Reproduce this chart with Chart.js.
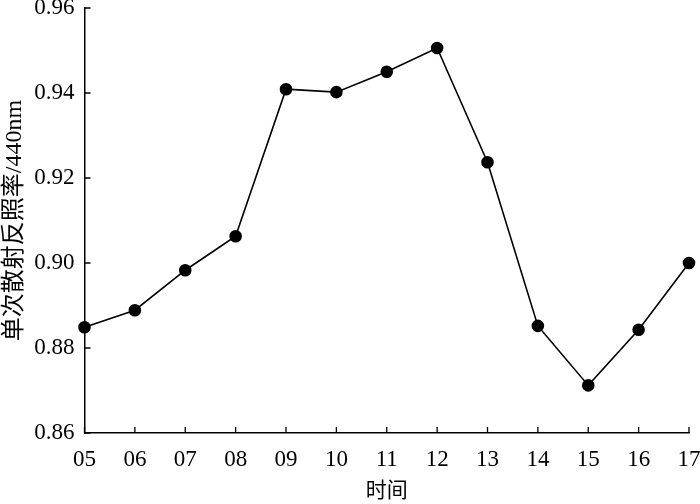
<!DOCTYPE html>
<html>
<head>
<meta charset="utf-8">
<script src="https://cdn.jsdelivr.net/npm/chart.js@4"></script>
<style>
  html, body { margin: 0; padding: 0; background: #fff; }
  #wrap { width: 700px; height: 504px; }
</style>
</head>
<body>
<div id="wrap"><canvas id="target" width="700" height="504"></canvas></div>
<script>
// 時間 (x軸)
var hours = ['05', '06', '07', '08', '09', '10', '11', '12', '13', '14', '15', '16', '17'];
// 単次散乱アルベド 440nm
var ssa = [0.8849, 0.8889, 0.8983, 0.9063, 0.9409, 0.9402, 0.9450, 0.9506, 0.9237, 0.8852, 0.8712, 0.8843, 0.9000];
// y軸の目盛り
var yTicks = [0.86, 0.88, 0.90, 0.92, 0.94, 0.96];

var FONT = '"Liberation Serif", "Noto Sans CJK SC", serif';

// 内向きの目盛り線
var innerTicks = {
  id: 'innerTicks',
  afterDraw: function (chart) {
    var ctx = chart.ctx;
    var xs = chart.scales.x, ys = chart.scales.y;
    var len = 6;
    ctx.save();
    ctx.strokeStyle = '#000';
    ctx.lineWidth = 1.3;
    ctx.beginPath();
    xs.ticks.forEach(function (t, i) {
      var px = xs.getPixelForTick(i);
      ctx.moveTo(px, xs.top);
      ctx.lineTo(px, xs.top - len);
    });
    ys.ticks.forEach(function (t, i) {
      var py = ys.getPixelForTick(i);
      ctx.moveTo(ys.right, py);
      ctx.lineTo(ys.right + len, py);
    });
    ctx.stroke();
    ctx.restore();
  }
};

new Chart(document.getElementById('target').getContext('2d'), {
  type: 'line',
  data: {
    labels: hours,
    datasets: [{
      data: ssa,
      borderColor: '#000',
      borderWidth: 1.6,
      pointBackgroundColor: '#000',
      pointBorderColor: '#000',
      pointRadius: 5.5,
      tension: 0,
      fill: false
    }]
  },
  plugins: [innerTicks],
  options: {
    responsive: false,
    animation: false,
    layout: { padding: { top: 8, right: 11, left: 0, bottom: 0 } },
    plugins: { legend: { display: false }, tooltip: { enabled: false } },
    scales: {
      x: {
        offset: false,
        grid: { display: true, drawOnChartArea: false, drawTicks: false },
        border: { display: true, color: '#000', width: 1.5 },
        ticks: { color: '#000', padding: 13, maxRotation: 0, autoSkip: false, font: { family: FONT, size: 23 } },
        title: { display: true, text: '时间', color: '#000', padding: { top: 0, bottom: 0 }, font: { family: FONT, size: 21 } },
        afterFit: function (s) { s.height = 71; s.paddingLeft = 0; s.paddingRight = 0; }
      },
      y: {
        min: 0.86,
        max: 0.96,
        afterBuildTicks: function (s) { s.ticks = yTicks.map(function (v) { return { value: v }; }); },
        grid: { display: true, drawOnChartArea: false, drawTicks: false },
        border: { display: true, color: '#000', width: 1.5 },
        ticks: {
          color: '#000', padding: 10, font: { family: FONT, size: 23 },
          callback: function (v) { return Number(v).toFixed(2); }
        },
        title: { display: true, text: '单次散射反照率/440nm', color: '#000', padding: { top: 0, bottom: 0 }, font: { family: FONT, size: 24 } },
        afterFit: function (s) { s.width = 84.5; s.paddingTop = 0; s.paddingBottom = 0; }
      }
    }
  }
});
</script>
</body>
</html>
